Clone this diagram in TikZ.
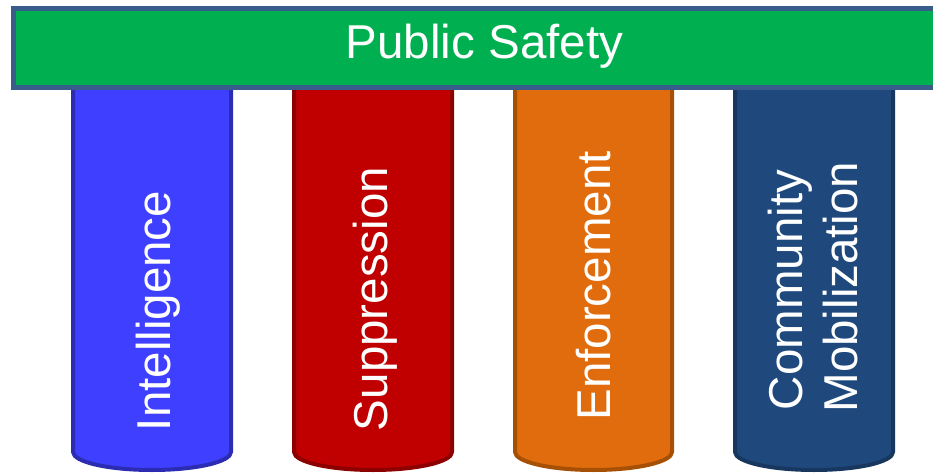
\documentclass[tikz,border=0pt]{standalone}
\usepackage{fontspec}
\setmainfont{Liberation Sans}
\definecolor{barfill}{HTML}{00B050}
\definecolor{barline}{HTML}{385D8A}
\definecolor{bluefill}{HTML}{3F3FFF}
\definecolor{blueline}{HTML}{2C2CB3}
\definecolor{redfill}{HTML}{C00000}
\definecolor{redline}{HTML}{8C0000}
\definecolor{orfill}{HTML}{E06C0E}
\definecolor{orline}{HTML}{A65006}
\definecolor{navyfill}{HTML}{1F497D}
\definecolor{navyline}{HTML}{17375E}
\tikzset{
  pillar/.style={line width=4pt, line join=round},
  lbl/.style={text=white, font=\fontsize{47.5}{55}\selectfont, inner sep=0pt, anchor=base},
  vlbl/.style={lbl, rotate=90}
}
\begin{document}
\begin{tikzpicture}[x=1pt,y=1pt]
\clip (0,0) rectangle (933,474);
\fill[white] (0,0) rectangle (933,474);
% pillars
\draw[pillar, fill=bluefill, draw=blueline] (73,400) -- (73,22) arc[start angle=180, end angle=360, x radius=79, y radius=18] -- (231,400) -- cycle;
\draw[pillar, fill=redfill, draw=redline] (294,400) -- (294,22) arc[start angle=180, end angle=360, x radius=79, y radius=18] -- (452,400) -- cycle;
\draw[pillar, fill=orfill, draw=orline] (515,400) -- (515,22) arc[start angle=180, end angle=360, x radius=78.5, y radius=18] -- (672,400) -- cycle;
\draw[pillar, fill=navyfill, draw=navyline] (735,400) -- (735,22) arc[start angle=180, end angle=360, x radius=79, y radius=18] -- (893,400) -- cycle;
% top bar
\draw[line width=5pt, fill=barfill, draw=barline] (13.5,386.5) rectangle (960,465.5);
\node[lbl] (title) at (484.5,415) {Public Safety};
% labels
\node[vlbl] (intel) at (170,163) {Intelligence};
\node[vlbl] (supp) at (387,175) {Suppression};
\node[vlbl] (enf) at (610,188) {Enforcement};
\node[vlbl] (comm) at (802,184) {Community};
\node[vlbl] (mob) at (857,187) {Mobilization};
\end{tikzpicture}
\end{document}
